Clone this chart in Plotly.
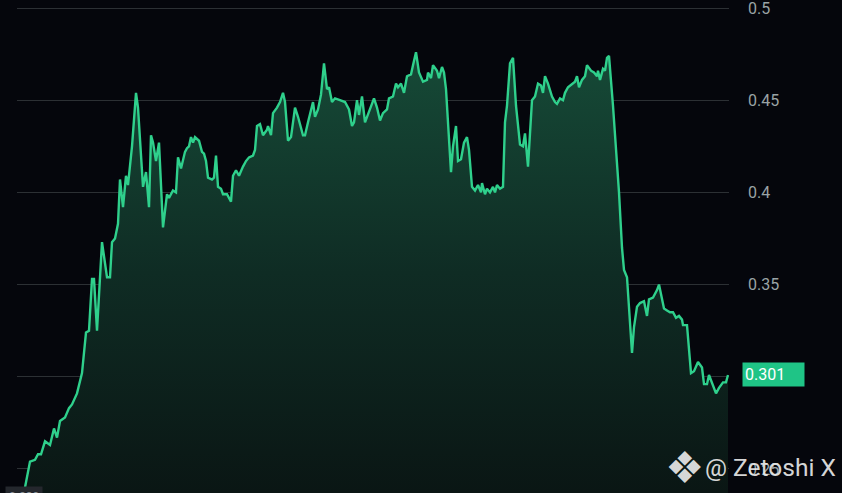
import plotly.graph_objects as go

# time index (minutes from start) and price
minute = [0, 3, 8, 13, 16, 19, 23, 28, 32, 35, 38, 43, 47, 50, 55, 60, 64, 67, 70, 72,
          75, 80, 85, 88, 90, 93, 96, 98, 101, 104, 106, 110, 114, 116, 121, 124, 127, 129, 131, 134,
          137, 141, 145, 147, 151, 154, 156, 159, 163, 165, 167, 169, 171, 173, 177, 180, 182, 184, 186, 190,
          192, 194, 196, 199, 201, 205, 209, 211, 214, 217, 221, 224, 227, 231, 233, 235, 238, 241, 245, 246,
          249, 251, 255, 258, 261, 263, 266, 269, 273, 276, 281, 283, 286, 291, 293, 296, 299, 302, 305, 307,
          310, 313, 318, 323, 327, 330, 332, 335, 337, 340, 343, 347, 352, 355, 358, 361, 365, 367, 371, 374,
          376, 379, 382, 385, 389, 391, 394, 397, 401, 405, 406, 409, 411, 415, 417, 420, 422, 424, 426, 429,
          431, 434, 436, 439, 442, 445, 447, 450, 453, 456, 459, 460, 463, 465, 468, 471, 473, 475, 478, 481,
          483, 485, 488, 491, 494, 498, 501, 503, 506, 510, 513, 516, 519, 521, 523, 526, 530, 533, 535, 538,
          541, 543, 546, 550, 553, 555, 557, 560, 563, 565, 569, 572, 575, 576, 578, 581, 583, 585, 587, 591,
          595, 597, 600, 602, 605, 607, 610, 612, 615, 618, 622, 625, 627, 631, 635, 637, 640, 642, 645, 648,
          651, 654, 657, 660, 661, 665, 669, 672, 676, 680, 682, 685, 687, 691, 694, 697, 701, 704, 706]
price = [0.239, 0.240, 0.254, 0.255, 0.258, 0.258, 0.265, 0.263, 0.272, 0.267, 0.276, 0.278, 0.283, 0.285, 0.291, 0.302, 0.324, 0.325, 0.353, 0.353,
         0.325, 0.373, 0.354, 0.354, 0.373, 0.375, 0.383, 0.407, 0.392, 0.409, 0.404, 0.425, 0.454, 0.446, 0.403, 0.411, 0.392, 0.431, 0.427, 0.417,
         0.427, 0.381, 0.399, 0.397, 0.401, 0.400, 0.419, 0.413, 0.422, 0.424, 0.425, 0.430, 0.427, 0.430, 0.428, 0.422, 0.421, 0.417, 0.408, 0.407,
         0.408, 0.420, 0.403, 0.402, 0.399, 0.399, 0.395, 0.409, 0.412, 0.409, 0.414, 0.417, 0.419, 0.420, 0.423, 0.436, 0.437, 0.431, 0.434, 0.436,
         0.431, 0.443, 0.446, 0.449, 0.454, 0.449, 0.428, 0.430, 0.446, 0.441, 0.431, 0.431, 0.438, 0.449, 0.441, 0.445, 0.453, 0.470, 0.456, 0.457,
         0.449, 0.451, 0.450, 0.449, 0.445, 0.436, 0.438, 0.450, 0.442, 0.452, 0.438, 0.444, 0.451, 0.446, 0.439, 0.443, 0.445, 0.451, 0.452, 0.459,
         0.457, 0.459, 0.454, 0.463, 0.464, 0.469, 0.476, 0.465, 0.460, 0.461, 0.465, 0.462, 0.469, 0.466, 0.462, 0.468, 0.465, 0.456, 0.438, 0.411,
         0.425, 0.436, 0.417, 0.418, 0.427, 0.430, 0.423, 0.403, 0.401, 0.404, 0.400, 0.405, 0.399, 0.402, 0.400, 0.403, 0.400, 0.404, 0.402, 0.403,
         0.438, 0.447, 0.470, 0.473, 0.447, 0.426, 0.425, 0.432, 0.414, 0.450, 0.452, 0.459, 0.458, 0.454, 0.463, 0.459, 0.452, 0.449, 0.448, 0.451,
         0.450, 0.454, 0.457, 0.459, 0.460, 0.463, 0.457, 0.461, 0.463, 0.469, 0.466, 0.465, 0.463, 0.466, 0.461, 0.467, 0.466, 0.473, 0.474, 0.447,
         0.418, 0.400, 0.370, 0.358, 0.354, 0.335, 0.313, 0.327, 0.338, 0.340, 0.341, 0.333, 0.342, 0.343, 0.347, 0.350, 0.343, 0.337, 0.336, 0.335,
         0.335, 0.332, 0.333, 0.331, 0.328, 0.328, 0.302, 0.303, 0.308, 0.305, 0.296, 0.296, 0.301, 0.295, 0.291, 0.294, 0.297, 0.297, 0.301]

tick_vals = [0.25, 0.3, 0.35, 0.4, 0.45, 0.5]
tick_text = ["0.25", "0.3", "0.35", "0.4", "0.45", "0.5"]
last_label = "0.301"
start_label = "0.239"
watermark = "@ Zetoshi X"

y_range = [0.23698, 0.50434]
x_range = [-5, 707]

BG = "#05060c"
LINE = "#2fd08c"

fig = go.Figure()
fig.add_trace(go.Scatter(x=[minute[0], minute[-1]], y=[y_range[0], y_range[0]],
                         mode="lines", line=dict(width=0), hoverinfo="skip", showlegend=False))
fig.add_trace(go.Scatter(
    x=minute, y=price, mode="lines",
    line=dict(color=LINE, width=2.4),
    fill="tonexty",
    fillgradient=dict(type="vertical", start=y_range[0], stop=max(price),
                      colorscale=[[0, "#0a1614"], [0.5, "#0f2c24"], [1, "#164a37"]]),
    showlegend=False,
))

fig.update_layout(
    width=842, height=493,
    margin=dict(l=17, r=113, t=0, b=0),
    paper_bgcolor=BG, plot_bgcolor=BG,
    xaxis=dict(range=x_range, visible=False, showgrid=False, zeroline=False),
    yaxis=dict(range=y_range, side="right", tickvals=tick_vals, ticktext=tick_text,
               showgrid=True, gridcolor="#2c3034", gridwidth=1, zeroline=False,
               ticks="", ticklabelstandoff=18, showline=False, ticklabeloverflow="allow",
               tickfont=dict(family="Roboto", size=16, color="#9aa3a5")),
    font=dict(family="Roboto"),
    annotations=[
        dict(x=1, xref="paper", y=price[-1], yref="y", xanchor="left", yanchor="middle",
             xshift=13, text=last_label, showarrow=False, align="left",
             font=dict(family="Roboto", size=16, color="#ffffff"),
             bgcolor="#1fc486", width=57, height=19, borderpad=2),
        dict(x=0, xref="paper", y=0, yref="paper", xanchor="left", yanchor="top",
             xshift=-12, yshift=7, text=start_label, showarrow=False,
             font=dict(family="Roboto", size=12, color="#8a9096"),
             bgcolor="#24272d", borderpad=3),
        dict(x=1, xref="paper", y=0, yref="paper", xanchor="center", yanchor="middle",
             xshift=-45, yshift=26, text="❖", showarrow=False,
             font=dict(family="DejaVu Sans", size=44, color="rgba(235,235,235,0.92)")),
        dict(x=1, xref="paper", y=0, yref="paper", xanchor="left", yanchor="middle",
             xshift=-26, yshift=26, text=watermark, showarrow=False,
             font=dict(family="Roboto", size=24.5, color="rgba(235,235,235,0.92)")),
    ],
)

fig.write_html("out.html", config={"displayModeBar": False},
               post_script="document.body.style.margin='0px';document.body.style.overflow='hidden';")
